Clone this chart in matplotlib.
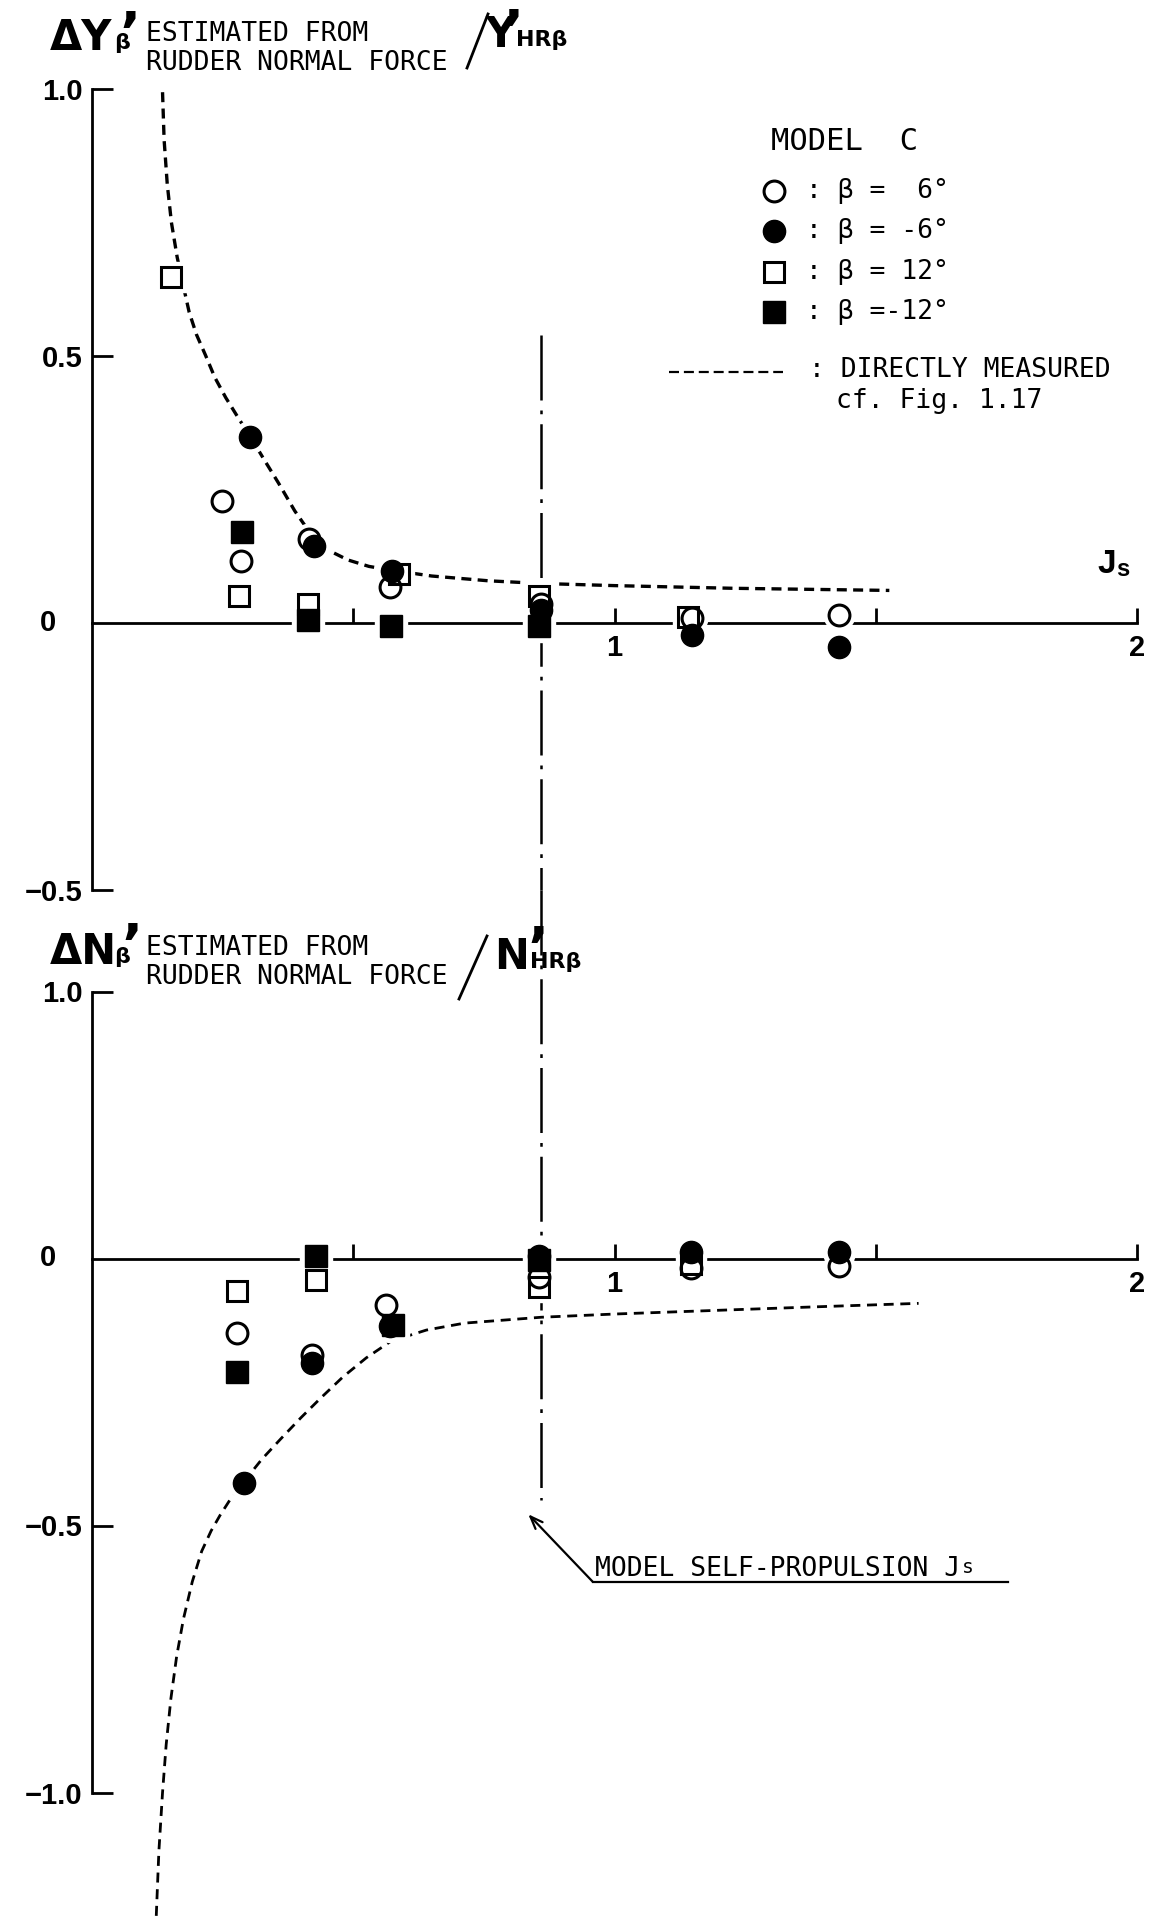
import matplotlib
matplotlib.use("Agg")
import matplotlib.pyplot as plt
import matplotlib.transforms as mtransforms
from matplotlib.lines import Line2D

W, H = 1157, 1916
DPI = 100

# ---------------- data ----------------
J_S = 0.86  # model self-propulsion point

# top panel : dY'_beta / Y'_HR_beta
y_b6_x = [0.248, 0.285, 0.415, 0.570, 0.860, 1.148, 1.430]
y_b6_v = [0.228, 0.116, 0.158, 0.067, 0.035, 0.010, 0.015]
y_bm6_x = [0.303, 0.424, 0.574, 0.860, 1.148, 1.430]
y_bm6_v = [0.349, 0.145, 0.098, 0.025, -0.022, -0.045]
y_b12_x = [0.151, 0.282, 0.414, 0.587, 0.856, 1.140]
y_b12_v = [0.648, 0.050, 0.035, 0.092, 0.050, 0.012]
y_bm12_x = [0.287, 0.414, 0.573, 0.856]
y_bm12_v = [0.171, 0.006, -0.005, -0.005]
y_meas_x = [0.135, 0.138, 0.144, 0.152, 0.163, 0.175, 0.186, 0.200, 0.217, 0.235, 0.256,
            0.280, 0.303, 0.330, 0.357, 0.388, 0.420, 0.455, 0.490, 0.530, 0.572,
            0.650, 0.759, 0.860, 1.000, 1.227, 1.526]
y_meas_v = [0.994, 0.905, 0.822, 0.750, 0.685, 0.630, 0.582, 0.540, 0.502, 0.460, 0.422,
            0.384, 0.349, 0.305, 0.262, 0.210, 0.165, 0.135, 0.118, 0.106, 0.099,
            0.088, 0.079, 0.074, 0.070, 0.065, 0.061]

# bottom panel : dN'_beta / N'_HR_beta
n_b6_x = [0.278, 0.421, 0.563, 0.856, 1.146, 1.430]
n_b6_v = [-0.140, -0.180, -0.087, -0.035, -0.018, -0.014]
n_bm6_x = [0.290, 0.421, 0.570, 0.856, 1.146, 1.430]
n_bm6_v = [-0.420, -0.196, -0.126, 0.005, 0.012, 0.012]
n_b12_x = [0.278, 0.429, 0.856, 1.146]
n_b12_v = [-0.060, -0.040, -0.053, -0.010]
n_bm12_x = [0.278, 0.429, 0.577, 0.856]
n_bm12_v = [-0.212, 0.005, -0.124, -0.002]
n_meas_x = [0.123, 0.128, 0.135, 0.142, 0.151, 0.162, 0.175, 0.192, 0.210, 0.228, 0.245,
            0.266, 0.289, 0.325, 0.362, 0.400, 0.437, 0.480, 0.525, 0.572, 0.640,
            0.713, 0.860, 1.000, 1.227, 1.400, 1.582]
n_meas_v = [-1.231, -1.110, -1.000, -0.910, -0.824, -0.745, -0.675, -0.605, -0.548, -0.510, -0.481,
            -0.449, -0.420, -0.376, -0.337, -0.298, -0.262, -0.222, -0.186, -0.155, -0.134,
            -0.121, -0.110, -0.104, -0.096, -0.090, -0.084]

x_ticks = [0.5, 1.0, 1.5, 2.0]
x_tick_labels = ["", "1", "", "2"]
top_y_ticks = [-0.5, 0.5, 1.0]
top_y_labels = ["\u22120.5", "0.5", "1.0"]
bot_y_ticks = [-1.0, -0.5, 0.5]
bot_y_labels = ["\u22121.0", "\u22120.5", "1.0"]

legend_labels = [": \u03b2 =  6\u00b0", ": \u03b2 = -6\u00b0", ": \u03b2 = 12\u00b0", ": \u03b2 =-12\u00b0"]

# ---------------- style ----------------
BOLD = ["Liberation Sans Narrow", "Liberation Sans", "DejaVu Sans"]
HEAD = ["DejaVu Sans"]
MONO = ["DejaVu Sans Mono", "DejaVu Sans"]

fig = plt.figure(figsize=(W / DPI, H / DPI), dpi=DPI)
fig.patch.set_facecolor("white")
px = mtransforms.Affine2D().scale(1.0 / W, -1.0 / H).translate(0, 1) + fig.transFigure

left, width = 92 / W, (1137 - 92) / W
ax_top = fig.add_axes([left, (H - 890) / H, width, (890 - 89) / H])
ax_bot = fig.add_axes([left, (H - 1792.5) / H, width, (1792.5 - 991.5) / H])


def setup(ax, ylim, yticks, ylabels):
    ax.set_xlim(0, 2)
    ax.set_ylim(*ylim)
    ax.patch.set_visible(False)
    ax.spines["top"].set_visible(False)
    ax.spines["right"].set_visible(False)
    ax.spines["bottom"].set_position(("data", 0))
    ax.spines["bottom"].set_bounds(0, 2)
    for s in ("left", "bottom"):
        ax.spines[s].set_linewidth(2.0)
        ax.spines[s].set_zorder(2.5)
    ax.set_xticks(x_ticks)
    ax.set_xticklabels(x_tick_labels)
    ax.tick_params(axis="x", direction="in", length=11, width=2, pad=8)
    ax.set_yticks(yticks)
    ax.set_yticklabels(ylabels)
    ax.tick_params(axis="y", direction="in", length=15, width=2, pad=7)
    for lab in ax.get_xticklabels() + ax.get_yticklabels():
        lab.set_fontfamily(BOLD)
        lab.set_fontweight("bold")
        lab.set_fontsize(21)
    ax.text(-0.068, 0, "0", fontfamily=BOLD, fontweight="bold", fontsize=21,
            ha="right", va="center", clip_on=False)


setup(ax_top, (-0.5, 1.0), top_y_ticks, top_y_labels)
setup(ax_bot, (-1.0, 0.5), bot_y_ticks, bot_y_labels)

MS_OPEN, MS_FILL = 15, 16


def series(ax, xs, ys, marker, filled):
    ms = MS_FILL if filled else MS_OPEN
    ax.plot(xs, ys, ls="none", marker=marker, ms=ms + 7, mfc="white", mec="white",
            zorder=3, clip_on=False)
    ax.plot(xs, ys, ls="none", marker=marker, ms=ms, mfc="black" if filled else "none",
            mec="black", mew=1.0 if filled else 2.2, zorder=4, clip_on=False)


ax_top.plot(y_meas_x, y_meas_v, color="black", lw=2.4, dashes=(3.0, 1.9),
            clip_on=False, zorder=2)
ax_bot.plot(n_meas_x, n_meas_v, color="black", lw=2.0, dashes=(3.6, 2.4),
            clip_on=False, zorder=2)

series(ax_top, y_bm12_x, y_bm12_v, "s", True)
series(ax_top, y_bm6_x, y_bm6_v, "o", True)
series(ax_top, y_b12_x, y_b12_v, "s", False)
series(ax_top, y_b6_x, y_b6_v, "o", False)
series(ax_bot, n_bm12_x, n_bm12_v, "s", True)
series(ax_bot, n_bm6_x, n_bm6_v, "o", True)
series(ax_bot, n_b12_x, n_b12_v, "s", False)
series(ax_bot, n_b6_x, n_b6_v, "o", False)

# self-propulsion dash-dot line (split over the two panels)
dd_kw = dict(color="black", lw=1.8, dashes=(26, 4, 1.5, 4), clip_on=False, zorder=2)
ax_top.plot([J_S, J_S], [0.54, -0.5], **dd_kw)
junction = ax_top.transData.transform((J_S, -0.5))
y_j = ax_bot.transData.inverted().transform(junction)[1]
ax_bot.plot([J_S, J_S], [y_j, -0.452], **dd_kw)

# arrow + label
ax_bot.annotate("", xy=(0.835, -0.479), xytext=(0.958, -0.605),
                arrowprops=dict(arrowstyle="->,head_length=0.9,head_width=0.35",
                                lw=1.6, color="black", shrinkA=0, shrinkB=0),
                annotation_clip=False)
ax_bot.plot([0.958, 1.753], [-0.605, -0.605], color="black", lw=1.6, clip_on=False)
t_js = ax_bot.text(0.963, -0.595, "MODEL SELF-PROPULSION J", fontfamily=MONO,
                   fontsize=19, ha="left", va="baseline", clip_on=False)
ax_bot.annotate("s", xy=(1, 0), xycoords=t_js, xytext=(1, 4), textcoords="offset points",
                fontfamily=MONO, fontsize=14, ha="left", va="bottom")


# ---------------- headers ----------------
def header(y0, big, prime1_xy, slash, big2_xy, prime2_xy, sub2_x):
    # y0: baseline of the big symbols (full-size px)
    fig.text(50, y0, "\u0394" + big, transform=px, fontfamily=HEAD, fontweight="bold",
             fontsize=30, ha="left", va="baseline")
    fig.text(prime1_xy[0], prime1_xy[1], "\u2019", transform=px, fontfamily=HEAD,
             fontweight="bold", fontsize=40, ha="left", va="baseline")
    fig.text(114, y0 - 1, "\u03b2", transform=px, fontfamily=HEAD, fontweight="bold",
             fontsize=16, ha="left", va="baseline")
    fig.text(146, y0 - 16, "ESTIMATED FROM", transform=px, fontfamily=MONO,
             fontsize=19, ha="left", va="center")
    fig.text(146, y0 + 13, "RUDDER NORMAL FORCE", transform=px, fontfamily=MONO,
             fontsize=19, ha="left", va="center")
    fig.add_artist(Line2D(slash[0], slash[1], transform=px, color="black", lw=2.0))
    fig.text(big2_xy[0], big2_xy[1], big, transform=px, fontfamily=HEAD, fontweight="bold",
             fontsize=30, ha="left", va="baseline")
    fig.text(prime2_xy[0], prime2_xy[1], "\u2019", transform=px, fontfamily=HEAD,
             fontweight="bold", fontsize=40, ha="left", va="baseline")
    fig.text(sub2_x, big2_xy[1] - 1, "HR\u03b2", transform=px, fontfamily=HEAD,
             fontweight="bold", fontsize=16, ha="left", va="baseline")


header(50, "Y", (119, 51), ([467, 488], [68, 14]), (485, 47), (502, 49), 516)
header(964, "N", (121, 963), ([459, 487], [999, 936]), (494, 969), (527, 966), 530)

# J_s axis label
fig.text(1097, 573, "J", transform=px, fontfamily=BOLD, fontweight="bold", fontsize=24,
         ha="left", va="baseline")
fig.text(1116, 576, "s", transform=px, fontfamily=BOLD, fontweight="bold", fontsize=17,
         ha="left", va="baseline")

# ---------------- legend ----------------
fig.text(771, 142, "MODEL  C", transform=px, fontfamily=MONO, fontsize=22,
         ha="left", va="center")
leg_rows_y = [191, 231, 272, 312]
leg_styles = [("o", False), ("o", True), ("s", False), ("s", True)]
for yy, (mk, filled), lab in zip(leg_rows_y, leg_styles, legend_labels):
    fig.add_artist(Line2D([774], [yy], transform=px, ls="none", marker=mk,
                          ms=MS_FILL if filled else MS_OPEN,
                          mfc="black" if filled else "none", mec="black",
                          mew=1.0 if filled else 2.2))
    fig.text(806, yy, lab, transform=px, fontfamily=MONO, fontsize=19,
             ha="left", va="center")
fig.add_artist(Line2D([669, 783], [372, 372], transform=px, color="black", lw=1.6,
                      dashes=(4.5, 2.2)))
fig.text(809, 370, ": DIRECTLY MEASURED", transform=px, fontfamily=MONO, fontsize=19,
         ha="left", va="center")
fig.text(836, 401, "cf. Fig. 1.17", transform=px, fontfamily=MONO, fontsize=19,
         ha="left", va="center")

fig.savefig("out.png", dpi=DPI, facecolor="white")
